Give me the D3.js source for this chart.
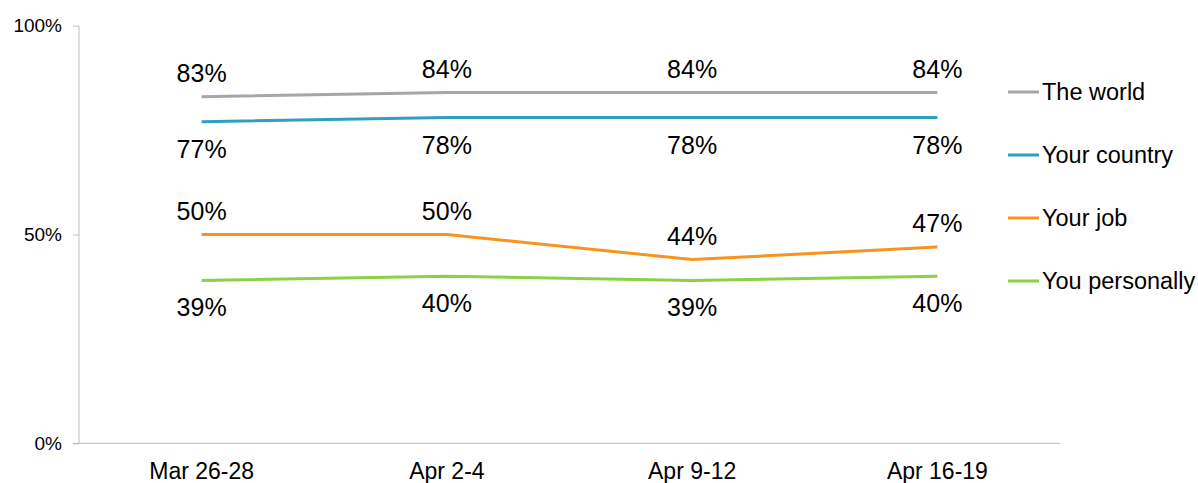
<!DOCTYPE html>
<html><head><meta charset="utf-8">
<script src="https://cdn.jsdelivr.net/npm/d3@7"></script>
<style>body{margin:0;background:#fff}svg{display:block;font-family:"Liberation Sans",Arial,sans-serif}</style>
</head><body><svg id="c" width="1198" height="483"></svg>
<script>
const categories = ["Mar 26-28", "Apr 2-4", "Apr 9-12", "Apr 16-19"];
const seriesNames = ["The world", "Your country", "Your job", "You personally"];
const theWorld = [83, 84, 84, 84];
const yourCountry = [77, 78, 78, 78];
const yourJob = [50, 50, 44, 47];
const youPersonally = [39, 40, 39, 40];
const yTicks = [0, 50, 100];
const colors = ["#A6A6A6", "#31A0BE", "#F7931E", "#8DD046"];
const labelAbove = [true, false, true, false];

const series = [theWorld, yourCountry, yourJob, youPersonally].map((v, i) => ({name: seriesNames[i], values: v, color: colors[i], above: labelAbove[i]}));

const svg = d3.select("#c");
const pL = 79, pR = 1060, pT = 25.7, pB = 443.3;
const x = d3.scaleBand().domain(categories).range([pL, pR]);
const y = d3.scaleLinear().domain([0, 100]).range([pB, pT]);
const cx = c => x(c) + x.bandwidth() / 2;

// y axis
const yAxis = svg.append("g").attr("transform", `translate(${pL},0)`)
  .call(d3.axisLeft(y).tickValues(yTicks).tickFormat(d => d + "%").tickSize(6).tickPadding(11));
yAxis.select(".domain").attr("stroke", "#BFBFBF").attr("d", `M0,${pT}V${pB}`);
yAxis.selectAll(".tick line").attr("stroke", "#BFBFBF");
yAxis.selectAll(".tick text").attr("font-size", 19).attr("fill", "#000").attr("font-family", '"Liberation Sans",Arial,sans-serif');

// x axis
const xAxis = svg.append("g").attr("transform", `translate(0,${pB})`)
  .call(d3.axisBottom(x).tickSize(0).tickPadding(19));
xAxis.select(".domain").attr("stroke", "#BFBFBF").attr("d", `M${pL - 6},0H${pR}`);
xAxis.selectAll(".tick text").attr("font-size", 23).attr("fill", "#000").attr("dy", "0.71em").attr("font-family", '"Liberation Sans",Arial,sans-serif');

const line = d3.line().x((d, i) => cx(categories[i])).y(d => y(d));

series.forEach(s => {
  svg.append("path").attr("d", line(s.values)).attr("fill", "none")
    .attr("stroke", s.color).attr("stroke-width", 3);
  svg.append("g").selectAll("text").data(s.values).join("text")
    .attr("x", (d, i) => cx(categories[i]))
    .attr("y", d => s.above ? y(d) - 15 : y(d) + 36)
    .attr("text-anchor", "middle").attr("font-size", 25).attr("fill", "#000")
    .text(d => d + "%");
});

// legend
const lg = svg.append("g");
series.forEach((s, i) => {
  const ly = 92 + i * 63;
  lg.append("line").attr("x1", 1008).attr("x2", 1039).attr("y1", ly).attr("y2", ly)
    .attr("stroke", s.color).attr("stroke-width", 3);
  lg.append("text").attr("x", 1042).attr("y", ly + 7.5).attr("font-size", 23.5).attr("fill", "#000").text(s.name);
});
</script></body></html>
